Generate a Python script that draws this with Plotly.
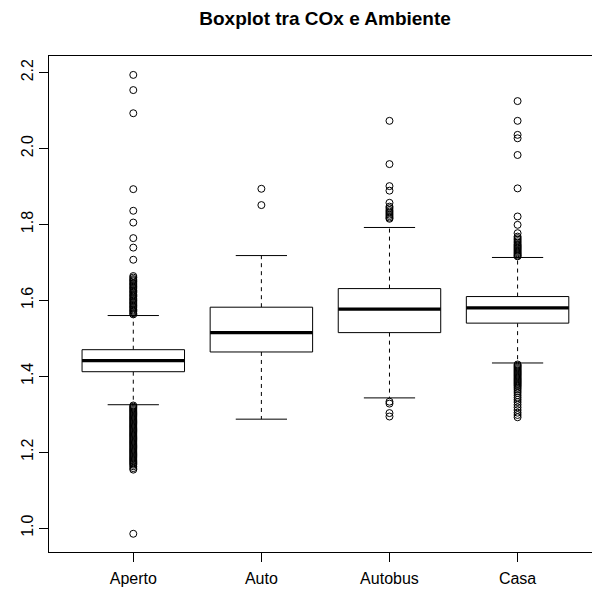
import plotly.graph_objects as go

# Box statistics per environment
categories = ["Aperto", "Auto", "Autobus", "Casa"]
q1 = [1.412, 1.464, 1.515, 1.540]
medians = [1.441, 1.515, 1.577, 1.580]
q3 = [1.470, 1.582, 1.631, 1.610]
lower_whisker = [1.325, 1.287, 1.343, 1.435]
upper_whisker = [1.560, 1.718, 1.792, 1.713]

# Outlying observations per environment
outliers_aperto = [
    2.194, 2.154, 2.093, 1.893, 1.836, 1.805, 1.764, 1.739, 1.707,
    1.664, 1.660, 1.656, 1.653, 1.650, 1.646, 1.643, 1.640, 1.636, 1.633,
    1.630, 1.626, 1.623, 1.620, 1.616, 1.613, 1.610, 1.606, 1.603, 1.600,
    1.596, 1.593, 1.590, 1.586, 1.583, 1.580, 1.576, 1.573, 1.570, 1.566, 1.563,
    1.323, 1.320, 1.317, 1.314, 1.311, 1.308, 1.305, 1.302, 1.299, 1.296,
    1.293, 1.290, 1.287, 1.284, 1.281, 1.278, 1.275, 1.272, 1.269, 1.266,
    1.263, 1.260, 1.257, 1.254, 1.251, 1.248, 1.245, 1.242, 1.239, 1.236,
    1.233, 1.230, 1.227, 1.224, 1.221, 1.218, 1.215, 1.212, 1.209, 1.206,
    1.203, 1.200, 1.197, 1.194, 1.191, 1.188, 1.185, 1.182, 1.179, 1.176,
    1.173, 1.170, 1.167, 1.163, 1.158, 1.154, 0.985,
]
outliers_auto = [1.894, 1.851]
outliers_autobus = [
    2.073, 1.959, 1.901, 1.889, 1.857, 1.847, 1.843, 1.838, 1.834, 1.830,
    1.826, 1.822, 1.818, 1.815,
    1.333, 1.328, 1.303, 1.294,
]
outliers_casa = [
    2.125, 2.073, 2.036, 2.027, 1.983, 1.895, 1.821, 1.799, 1.777, 1.768,
    1.764, 1.760, 1.756, 1.752, 1.748, 1.745, 1.742, 1.739, 1.736, 1.733,
    1.730, 1.727, 1.724, 1.721, 1.718, 1.716,
    1.431, 1.428, 1.425, 1.422, 1.419, 1.416, 1.413, 1.410, 1.407, 1.404,
    1.401, 1.398, 1.395, 1.392, 1.389, 1.386, 1.383, 1.380, 1.377, 1.374,
    1.370, 1.366, 1.361, 1.356, 1.350, 1.344, 1.338, 1.332, 1.325, 1.318,
    1.311, 1.304, 1.298, 1.292,
]
outliers = [outliers_aperto, outliers_auto, outliers_autobus, outliers_casa]

y_ticks = [1.0, 1.2, 1.4, 1.6, 1.8, 2.0, 2.2]

BOX_HALF = 0.4
CAP_HALF = 0.2
FONT = "Liberation Sans, Arial, sans-serif"

box_x, box_y = [], []
med_x, med_y = [], []
wh_x, wh_y = [], []
cap_x, cap_y = [], []
pt_x, pt_y = [], []

for i in range(len(categories)):
    pos = i + 1
    box_x += [pos - BOX_HALF, pos + BOX_HALF, pos + BOX_HALF, pos - BOX_HALF, pos - BOX_HALF, None]
    box_y += [q1[i], q1[i], q3[i], q3[i], q1[i], None]
    med_x += [pos - BOX_HALF, pos + BOX_HALF, None]
    med_y += [medians[i], medians[i], None]
    wh_x += [pos, pos, None, pos, pos, None]
    wh_y += [q3[i], upper_whisker[i], None, q1[i], lower_whisker[i], None]
    cap_x += [pos - CAP_HALF, pos + CAP_HALF, None, pos - CAP_HALF, pos + CAP_HALF, None]
    cap_y += [upper_whisker[i], upper_whisker[i], None, lower_whisker[i], lower_whisker[i], None]
    pt_x += [pos] * len(outliers[i])
    pt_y += outliers[i]

fig = go.Figure()
fig.add_trace(go.Scatter(x=wh_x, y=wh_y, mode="lines",
                         line=dict(color="black", width=1, dash="4px,4px"),
                         hoverinfo="skip"))
fig.add_trace(go.Scatter(x=cap_x, y=cap_y, mode="lines",
                         line=dict(color="black", width=1), hoverinfo="skip"))
fig.add_trace(go.Scatter(x=box_x, y=box_y, mode="lines", fill="toself",
                         fillcolor="white",
                         line=dict(color="black", width=1), hoverinfo="skip"))
fig.add_trace(go.Scatter(x=med_x, y=med_y, mode="lines",
                         line=dict(color="black", width=3.2), hoverinfo="skip"))
fig.add_trace(go.Scatter(x=pt_x, y=pt_y, mode="markers",
                         marker=dict(symbol="circle-open", size=7, color="black",
                                     line=dict(width=1, color="black"))))

fig.update_layout(
    width=592, height=592,
    margin=dict(l=49, r=0, t=56, b=40),
    paper_bgcolor="white", plot_bgcolor="white",
    showlegend=False,
    font=dict(family=FONT, size=16, color="black"),
    title=dict(text="<b>Boxplot tra COx e Ambiente</b>",
               x=0.5491, xanchor="center", xref="container",
               y=1 - 18 / 592, yanchor="middle", yref="container",
               font=dict(family=FONT, size=19, color="black")),
)
fig.update_xaxes(
    range=[0.342, 4.581],
    tickmode="array", tickvals=[1, 2, 3, 4], ticktext=categories,
    ticks="outside", ticklen=9, tickwidth=1, tickcolor="black",
    ticklabelstandoff=3,
    showline=True, linecolor="black", linewidth=1, mirror=True,
    showgrid=False, zeroline=False,
)
fig.update_yaxes(
    range=[0.937, 2.2438],
    tickmode="array", tickvals=y_ticks, ticktext=[f"{v:.1f}" for v in y_ticks],
    tickangle=-90,
    ticks="outside", ticklen=9, tickwidth=1, tickcolor="black",
    showline=True, linecolor="black", linewidth=1, mirror=False,
    showgrid=False, zeroline=False,
)

fig.write_html("out.html")
